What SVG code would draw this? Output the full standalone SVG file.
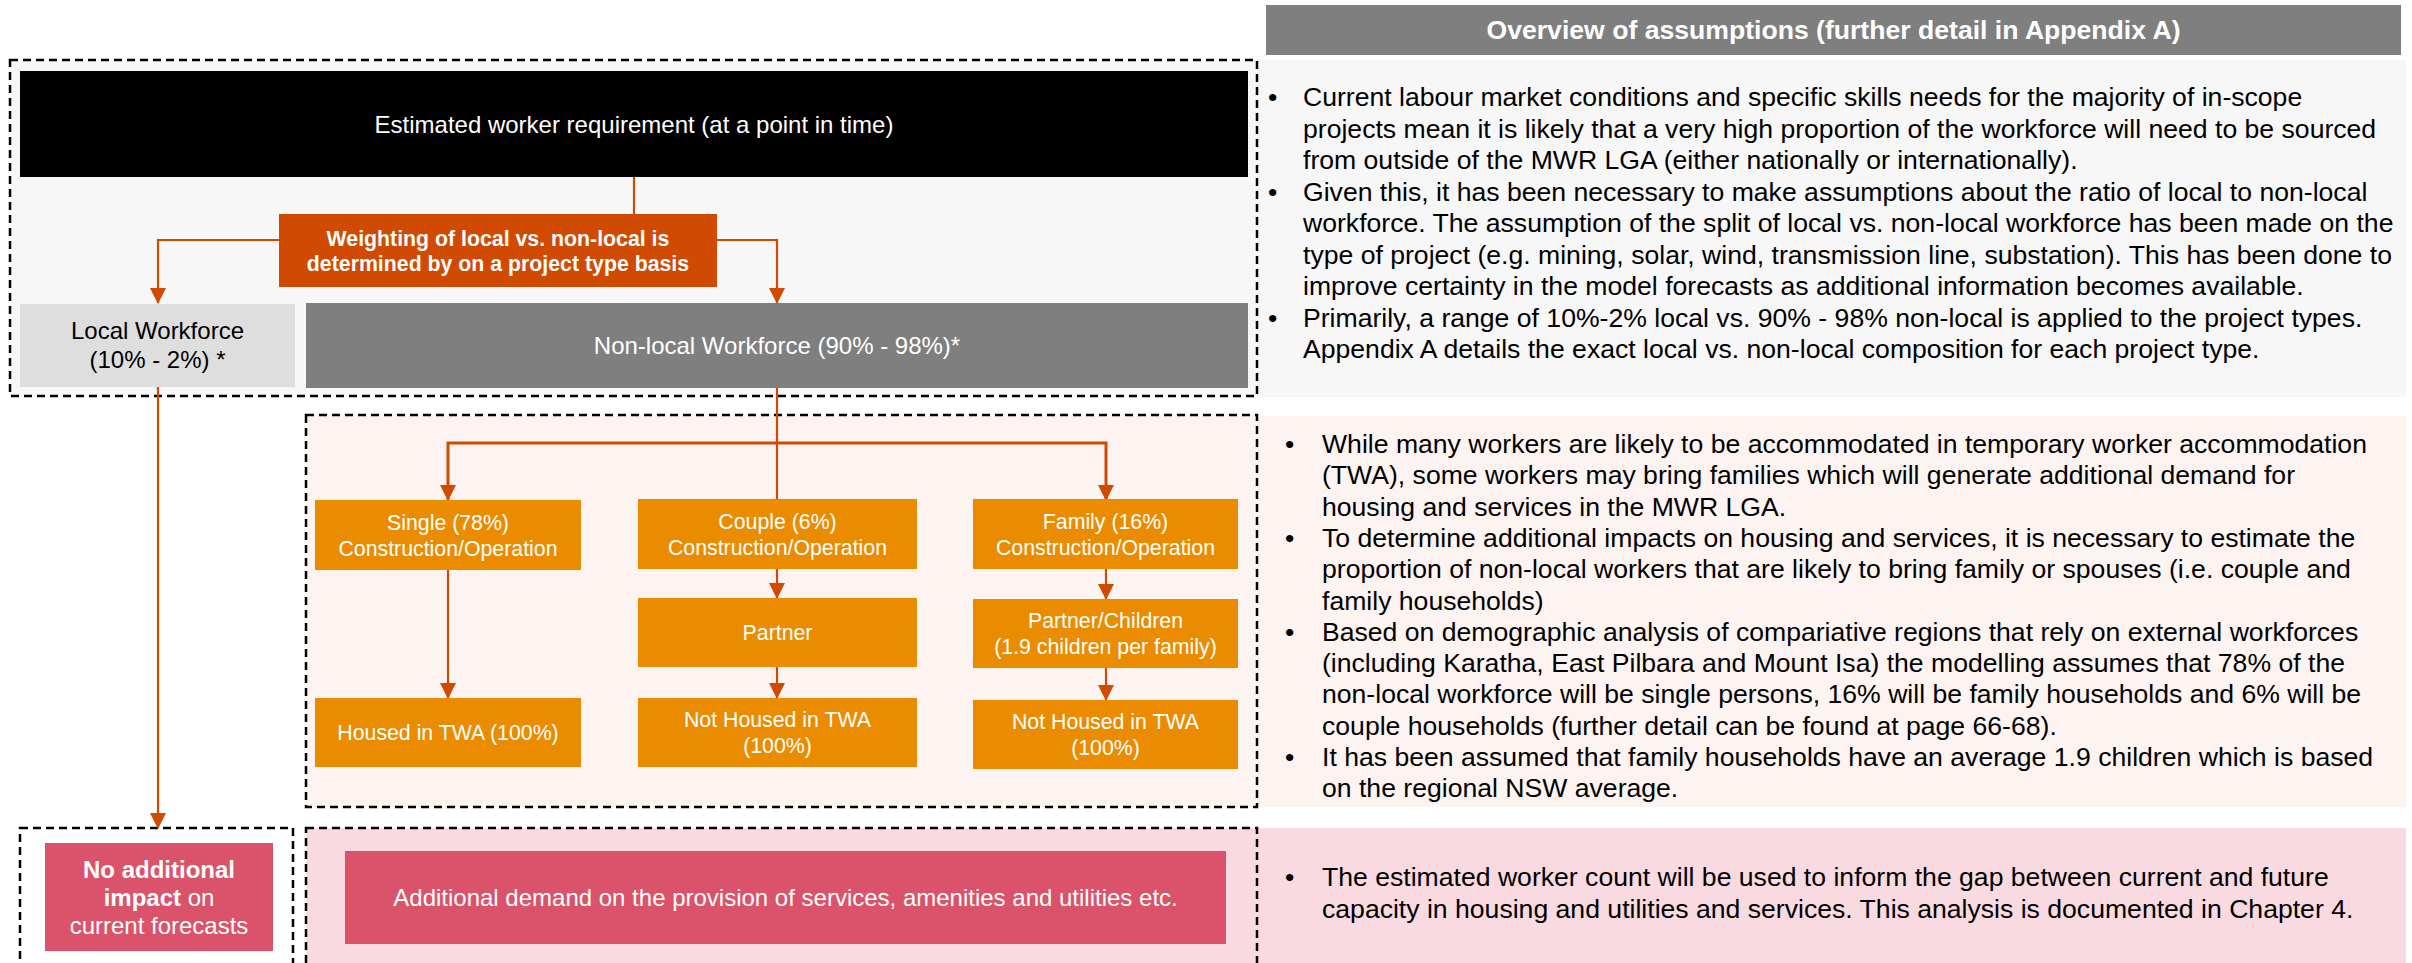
<svg xmlns="http://www.w3.org/2000/svg" width="2412" height="963" viewBox="0 0 2412 963">
<style>
text{font-family:"Liberation Sans",Arial,sans-serif}
.w{fill:#fff}
.k{fill:#000}
.c{text-anchor:middle}
.b{font-weight:bold}
.f24{font-size:24px}
.f21{font-size:21.3px}
.body{font-size:26.6px;fill:#000}
.dash{fill:none;stroke:#000;stroke-width:2.5;stroke-dasharray:8 5}
.con{fill:none;stroke:#D04A02;stroke-width:2.2}
.amber{fill:#EB8C00}
.rose{fill:#DB536A}
</style>
<defs>
<marker id="ah" markerUnits="userSpaceOnUse" markerWidth="16" markerHeight="16" viewBox="0 0 16 16" refX="15" refY="8" orient="auto">
<path d="M0,0 L16,8 L0,16 Z" fill="#D04A02"/>
</marker>
</defs>

<!-- background panels -->
<g id="panels">
<rect x="10" y="60" width="1247" height="336" fill="#F7F7F7"/>
<rect x="306" y="415" width="951" height="392" fill="#FDF4F2"/>
<rect x="306" y="828" width="951" height="140" fill="#F8DAE0"/>
<rect x="1257" y="60" width="1149" height="337" fill="#F7F7F7"/>
<rect x="1257" y="416" width="1149" height="391" fill="#FDF4F2"/>
<rect x="1257" y="828" width="1149" height="140" fill="#F8DAE0"/>
</g>

<g id="dashed-boxes">
<rect class="dash" x="10" y="60" width="1247" height="336"/>
<rect class="dash" x="306" y="415" width="951" height="392"/>
<rect class="dash" x="20" y="828" width="273" height="150"/>
<rect class="dash" x="306" y="828" width="951" height="150"/>
</g>

<g id="connectors">
<path class="con" d="M634,177 V214"/>
<path class="con" d="M279,240 H158 V303" marker-end="url(#ah)"/>
<path class="con" d="M717,240 H777 V303" marker-end="url(#ah)"/>
<path class="con" d="M777,388 V499"/>
<path class="con" style="stroke-width:3" d="M777,443 H448 V500" marker-end="url(#ah)"/>
<path class="con" style="stroke-width:3" d="M777,443 H1106 V500" marker-end="url(#ah)"/>
<path class="con" d="M448,570 V698" marker-end="url(#ah)"/>
<path class="con" d="M777,569 V598" marker-end="url(#ah)"/>
<path class="con" d="M777,667 V698" marker-end="url(#ah)"/>
<path class="con" d="M1106,569 V599" marker-end="url(#ah)"/>
<path class="con" d="M1106,668 V700" marker-end="url(#ah)"/>
<path class="con" d="M158,387 V828" marker-end="url(#ah)"/>
</g>

<g id="n-title">
<rect x="20" y="71" width="1228" height="106" fill="#000"/>
<text class="w c f24" x="634" y="133">Estimated worker requirement (at a point in time)</text>
</g>

<g id="n-weighting">
<rect x="279" y="214" width="438" height="73" fill="#D04A02"/>
<text class="w c b f21" x="498" y="245.5">Weighting of local vs. non-local is</text>
<text class="w c b f21" x="498" y="270.5">determined by on a project type basis</text>
</g>

<g id="n-local">
<rect x="20" y="304" width="275" height="83" fill="#DEDEDE"/>
<text class="k c f24" x="157.5" y="339">Local Workforce</text>
<text class="k c f24" x="157.5" y="368">(10% - 2%) *</text>
</g>

<g id="n-nonlocal">
<rect x="306" y="303" width="942" height="85" fill="#7F7F7F"/>
<text class="w c f24" x="777" y="354">Non-local Workforce (90% - 98%)*</text>
</g>

<g id="n-single">
<rect class="amber" x="315" y="500" width="266" height="70"/>
<text class="w c f21" x="448" y="529.5">Single (78%)</text>
<text class="w c f21" x="448" y="555.5">Construction/Operation</text>
</g>
<g id="n-couple">
<rect class="amber" x="638" y="499" width="279" height="70"/>
<text class="w c f21" x="777.5" y="528.5">Couple (6%)</text>
<text class="w c f21" x="777.5" y="554.5">Construction/Operation</text>
</g>
<g id="n-family">
<rect class="amber" x="973" y="499" width="265" height="70"/>
<text class="w c f21" x="1105.5" y="528.5">Family (16%)</text>
<text class="w c f21" x="1105.5" y="554.5">Construction/Operation</text>
</g>
<g id="n-partner">
<rect class="amber" x="638" y="598" width="279" height="69"/>
<text class="w c f21" x="777.5" y="640">Partner</text>
</g>
<g id="n-partner-children">
<rect class="amber" x="973" y="599" width="265" height="69"/>
<text class="w c f21" x="1105.5" y="627.5">Partner/Children</text>
<text class="w c f21" x="1105.5" y="653.5">(1.9 children per family)</text>
</g>
<g id="n-housed">
<rect class="amber" x="315" y="698" width="266" height="69"/>
<text class="w c f21" x="448" y="740">Housed in TWA (100%)</text>
</g>
<g id="n-nothoused-couple">
<rect class="amber" x="638" y="698" width="279" height="69"/>
<text class="w c f21" x="777.5" y="727">Not Housed in TWA</text>
<text class="w c f21" x="777.5" y="753">(100%)</text>
</g>
<g id="n-nothoused-family">
<rect class="amber" x="973" y="700" width="265" height="69"/>
<text class="w c f21" x="1105.5" y="729">Not Housed in TWA</text>
<text class="w c f21" x="1105.5" y="755">(100%)</text>
</g>

<g id="n-noimpact">
<rect class="rose" x="45" y="843" width="228" height="108"/>
<text class="w c b f24" x="159" y="877.5">No additional</text>
<text class="w c f24" x="159" y="905.5"><tspan class="b">impact</tspan> on</text>
<text class="w c f24" x="159" y="933.5">current forecasts</text>
</g>

<g id="n-demand">
<rect class="rose" x="345" y="851" width="881" height="93"/>
<text class="w c f24" x="785.5" y="906">Additional demand on the provision of services, amenities and utilities etc.</text>
</g>

<g id="header">
<rect x="1266" y="5" width="1135" height="50" fill="#7F7F7F"/>
<text class="w c b" style="font-size:26.6px" x="1833.5" y="39">Overview of assumptions (further detail in Appendix A)</text>
</g>

<g id="text-panel1">
<text class="body" x="1268" y="106">•</text>
<text class="body" x="1303" y="106">Current labour market conditions and specific skills needs for the majority of in-scope</text>
<text class="body" x="1303" y="137.5">projects mean it is likely that a very high proportion of the workforce will need to be sourced</text>
<text class="body" x="1303" y="169">from outside of the MWR LGA (either nationally or internationally).</text>
<text class="body" x="1268" y="200.5">•</text>
<text class="body" x="1303" y="200.5">Given this, it has been necessary to make assumptions about the ratio of local to non-local</text>
<text class="body" x="1303" y="232">workforce. The assumption of the split of local vs. non-local workforce has been made on the</text>
<text class="body" x="1303" y="263.5">type of project (e.g. mining, solar, wind, transmission line, substation). This has been done to</text>
<text class="body" x="1303" y="295">improve certainty in the model forecasts as additional information becomes available.</text>
<text class="body" x="1268" y="326.5">•</text>
<text class="body" x="1303" y="326.5">Primarily, a range of 10%-2% local vs. 90% - 98% non-local is applied to the project types.</text>
<text class="body" x="1303" y="358">Appendix A details the exact local vs. non-local composition for each project type.</text>
</g>

<g id="text-panel2">
<text class="body" x="1285" y="453">•</text>
<text class="body" x="1322" y="453">While many workers are likely to be accommodated in temporary worker accommodation</text>
<text class="body" x="1322" y="484.3">(TWA), some workers may bring families which will generate additional demand for</text>
<text class="body" x="1322" y="515.6">housing and services in the MWR LGA.</text>
<text class="body" x="1285" y="546.9">•</text>
<text class="body" x="1322" y="546.9">To determine additional impacts on housing and services, it is necessary to estimate the</text>
<text class="body" x="1322" y="578.2">proportion of non-local workers that are likely to bring family or spouses (i.e. couple and</text>
<text class="body" x="1322" y="609.5">family households)</text>
<text class="body" x="1285" y="640.8">•</text>
<text class="body" x="1322" y="640.8">Based on demographic analysis of compariative regions that rely on external workforces</text>
<text class="body" x="1322" y="672.1">(including Karatha, East Pilbara and Mount Isa) the modelling assumes that 78% of the</text>
<text class="body" x="1322" y="703.4">non-local workforce will be single persons, 16% will be family households and 6% will be</text>
<text class="body" x="1322" y="734.7">couple households (further detail can be found at page 66-68).</text>
<text class="body" x="1285" y="766">•</text>
<text class="body" x="1322" y="766">It has been assumed that family households have an average 1.9 children which is based</text>
<text class="body" x="1322" y="797.3">on the regional NSW average.</text>
</g>

<g id="text-panel3">
<text class="body" x="1285" y="886">•</text>
<text class="body" x="1322" y="886">The estimated worker count will be used to inform the gap between current and future</text>
<text class="body" x="1322" y="917.5">capacity in housing and utilities and services. This analysis is documented in Chapter 4.</text>
</g>
</svg>
